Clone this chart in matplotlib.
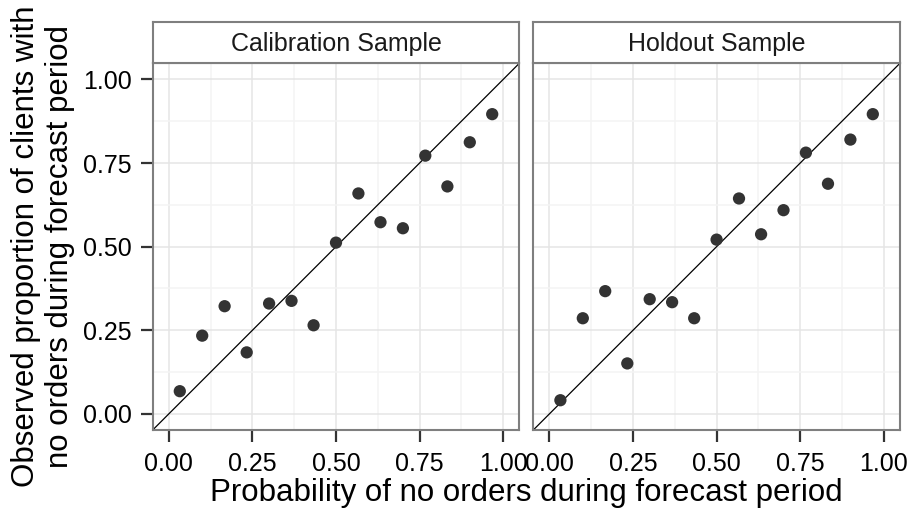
import matplotlib.pyplot as plt
from matplotlib.ticker import MultipleLocator

plt.rcParams['font.family'] = ['Liberation Sans', 'DejaVu Sans']

# predicted probability bins (x) and observed proportions (y)
prob_bins = [0.033, 0.100, 0.167, 0.233, 0.300, 0.367, 0.433, 0.500,
             0.567, 0.633, 0.700, 0.767, 0.833, 0.900, 0.967]
calib_obs = [0.068, 0.234, 0.322, 0.184, 0.330, 0.338, 0.265, 0.512,
             0.659, 0.573, 0.555, 0.772, 0.680, 0.812, 0.896]
holdout_obs = [0.041, 0.286, 0.367, 0.151, 0.343, 0.334, 0.286, 0.521,
               0.644, 0.537, 0.609, 0.781, 0.688, 0.820, 0.896]
panel_titles = ['Calibration Sample', 'Holdout Sample']
tick_vals = [0.00, 0.25, 0.50, 0.75, 1.00]
tick_labels = ['0.00', '0.25', '0.50', '0.75', '1.00']

W, H = 912, 514
fig = plt.figure(figsize=(W / 100, H / 100), dpi=100)
fig.patch.set_facecolor('white')

border = '#7f7f7f'
panel_left = [152.7, 533.3]
panel_w = 366.6
panel_top, panel_bot = 63.3, 430.0
strip_top = 22.3

for i, (obs, title) in enumerate(zip([calib_obs, holdout_obs], panel_titles)):
    x0 = panel_left[i]
    ax = fig.add_axes([x0 / W, (H - panel_bot) / H, panel_w / W, (panel_bot - panel_top) / H])
    ax.set_xlim(-0.048, 1.048)
    ax.set_ylim(-0.048, 1.048)
    ax.xaxis.set_major_locator(MultipleLocator(0.25))
    ax.yaxis.set_major_locator(MultipleLocator(0.25))
    ax.xaxis.set_minor_locator(MultipleLocator(0.125))
    ax.yaxis.set_minor_locator(MultipleLocator(0.125))
    ax.grid(which='major', color='#e5e5e5', linewidth=1.1)
    ax.grid(which='minor', color='#f4f4f4', linewidth=1.1)
    ax.set_axisbelow(True)

    ax.axline((0, 0), slope=1, color='black', linewidth=0.9, zorder=2)
    ax.scatter(prob_bins, obs, s=78, color='#333333', edgecolors='none', zorder=3)

    for sp in ax.spines.values():
        sp.set_color(border)
        sp.set_linewidth(1.5)

    ax.set_xticks(tick_vals)
    ax.set_xticklabels(tick_labels)
    ax.set_yticks(tick_vals)
    ax.tick_params(which='minor', length=0)
    ax.tick_params(which='major', length=8.5, width=1.6, color='#333333',
                   labelsize=18, labelcolor='black', pad=6.5)
    ax.tick_params(axis='x', pad=7.5)
    if i == 0:
        ax.set_yticklabels(tick_labels)
    else:
        ax.tick_params(axis='y', which='both', left=False, labelleft=False)

    # facet strip
    sax = fig.add_axes([x0 / W, (H - panel_top) / H, panel_w / W, (panel_top - strip_top) / H])
    sax.set_xticks([])
    sax.set_yticks([])
    sax.set_facecolor('white')
    for sp in sax.spines.values():
        sp.set_color(border)
        sp.set_linewidth(1.5)
    sax.text(0.5, 0.47, title, ha='center', va='center', fontsize=18,
             color='#1a1a1a', transform=sax.transAxes)

fig.text(526 / W, (H - 493) / H, 'Probability of no orders during forecast period',
         ha='center', va='center', fontsize=22.5)
fig.text(43 / W, (H - 246) / H,
         'Observed proportion of clients with\nno orders during forecast period',
         ha='center', va='center', rotation=90, fontsize=22.5, linespacing=1.2,
         multialignment='center')

fig.savefig('out.png', dpi=100)
